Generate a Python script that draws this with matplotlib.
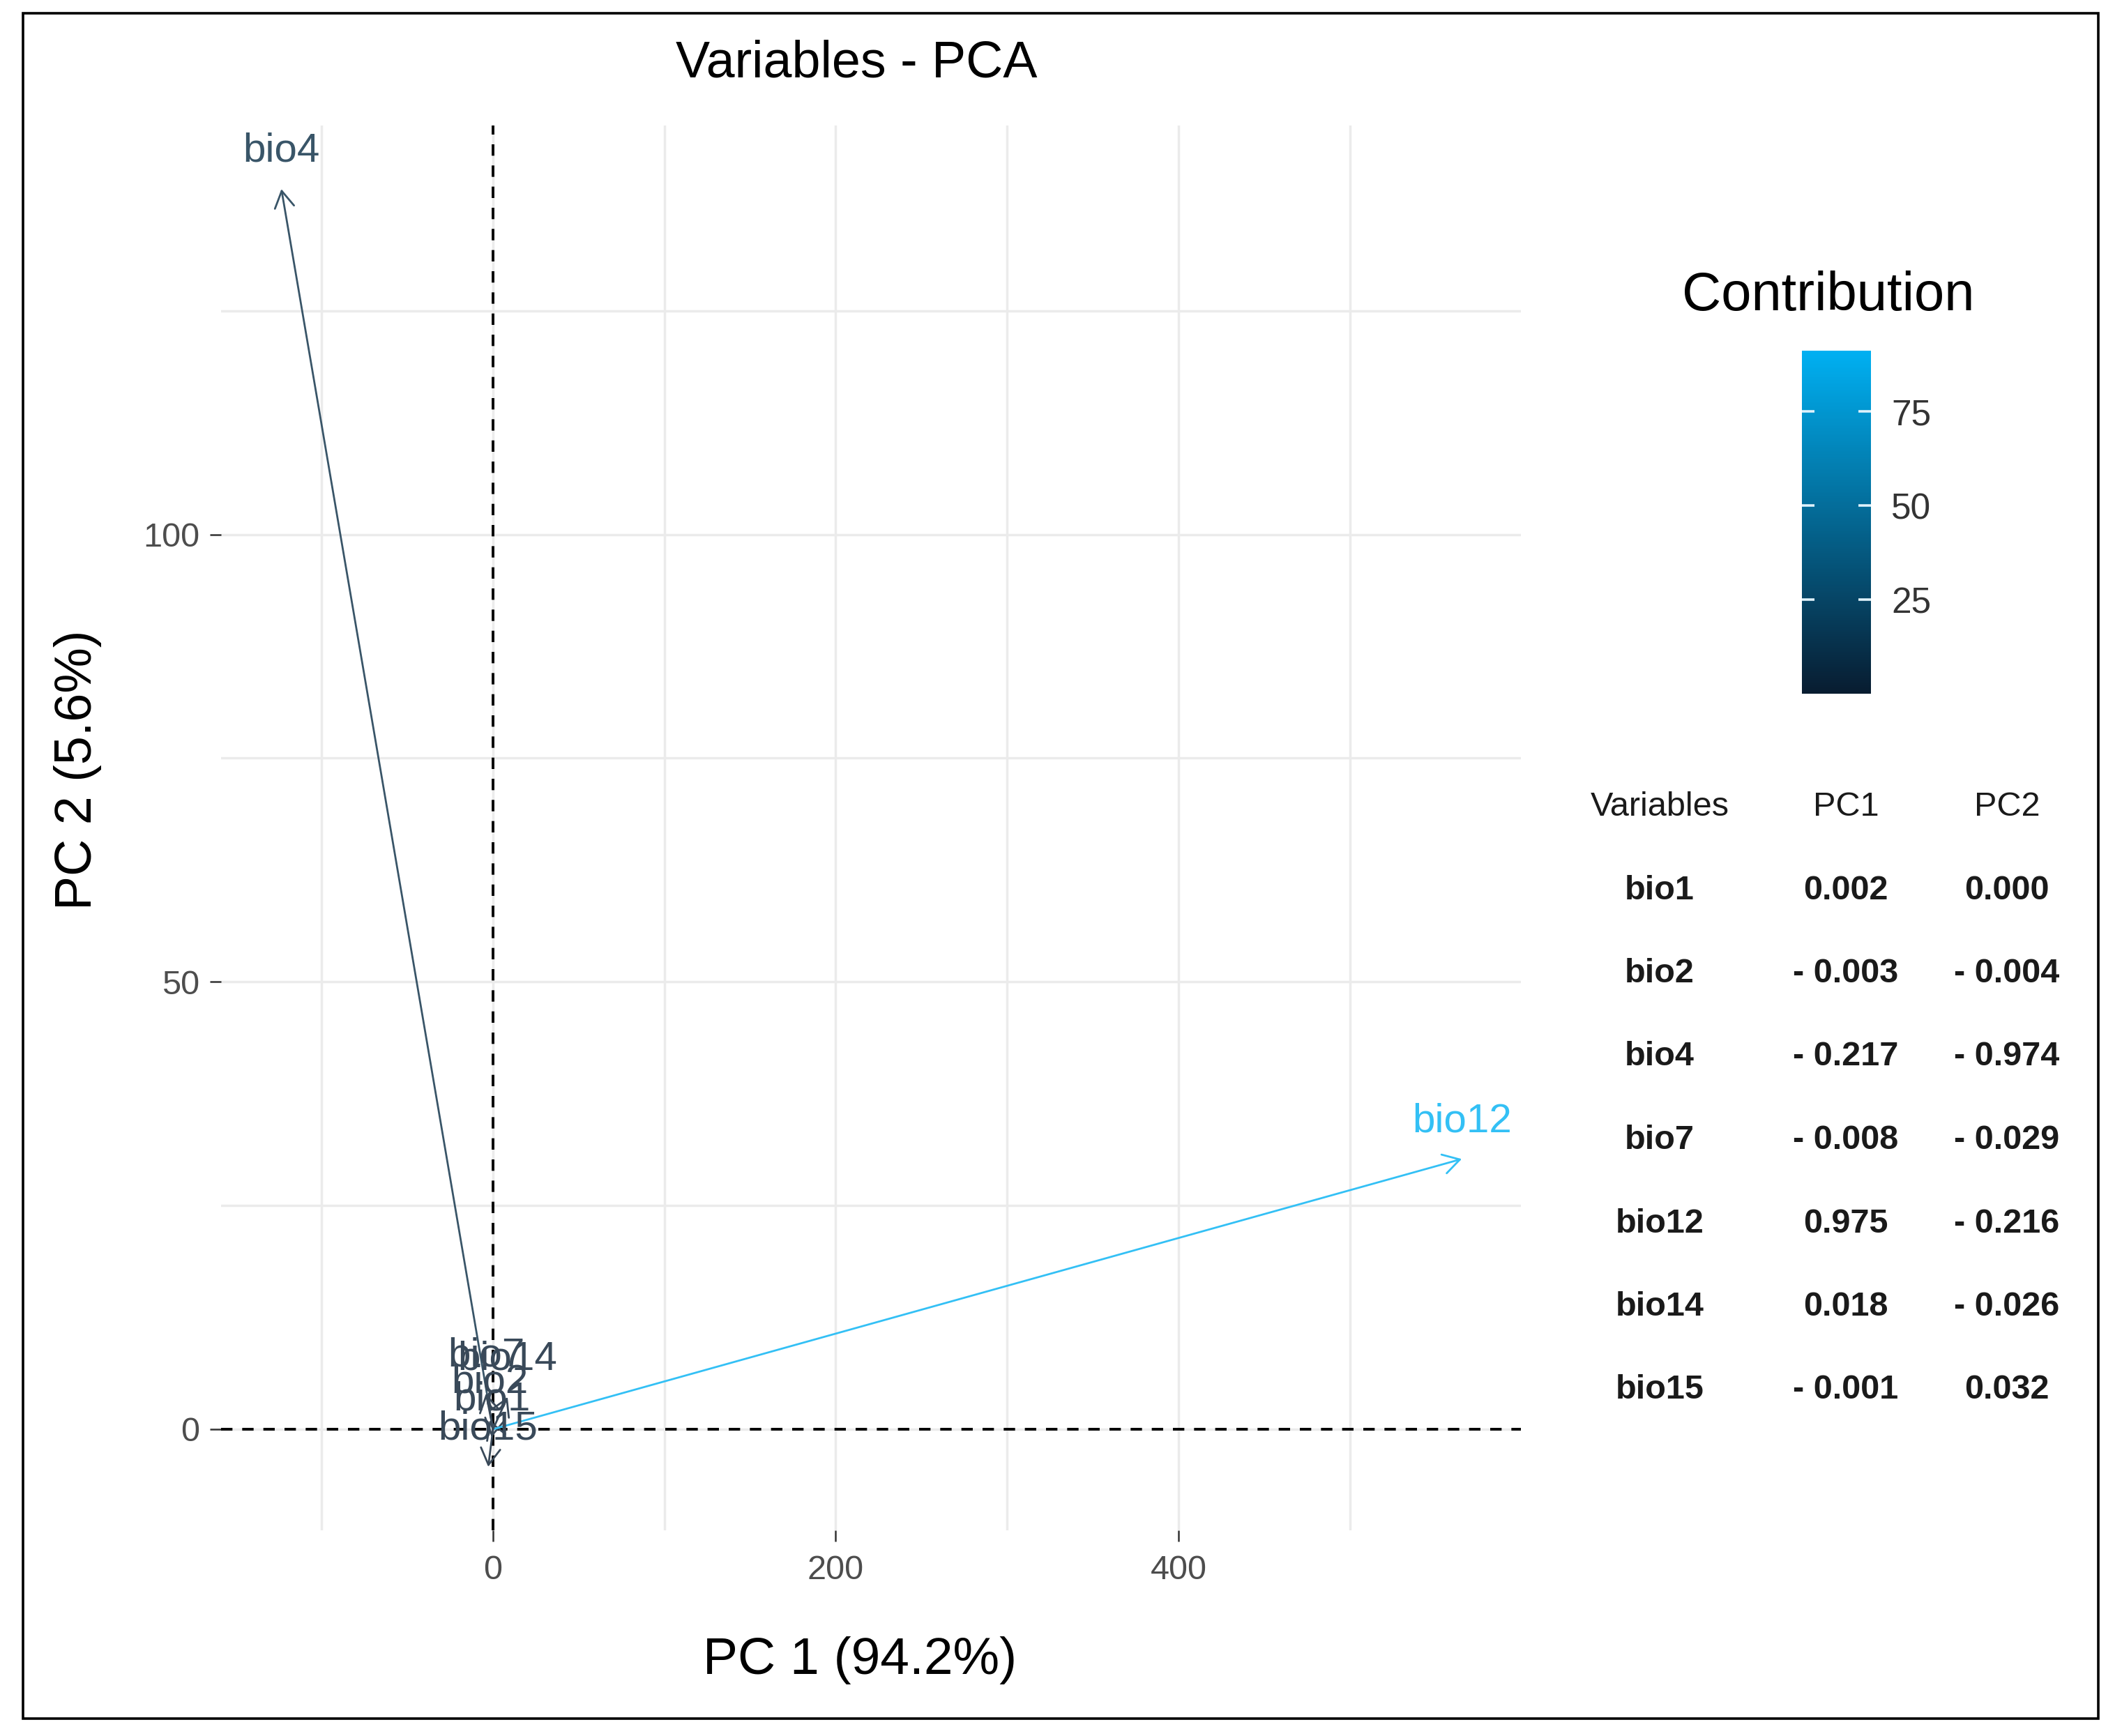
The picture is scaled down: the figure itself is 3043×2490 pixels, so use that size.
import matplotlib
matplotlib.use("Agg")
import matplotlib.pyplot as plt
import numpy as np
from matplotlib.colors import LinearSegmentedColormap, Normalize
from matplotlib.cm import ScalarMappable
from matplotlib.ticker import MultipleLocator
from matplotlib.patches import Rectangle

plt.rcParams['font.family'] = ['Liberation Sans', 'DejaVu Sans']

# coordonnees des variables sur PC1 / PC2
variables = ['bio1', 'bio2', 'bio4', 'bio7', 'bio12', 'bio14', 'bio15']
pc1_coord = [-0.8, -2.0, -123.5, -4.1, 565.3, 8.5, -2.8]
pc2_coord = [-0.9, 1.0, 138.6, 4.0, 30.2, 3.6, -4.2]
contrib = [0.01, 0.01, 8.7, 0.05, 91.2, 0.05, 0.02]

# tableau de droite
table_header = ['Variables', 'PC1', 'PC2']
table_pc1 = ['0.002', '- 0.003', '- 0.217', '- 0.008', '0.975', '0.018', '- 0.001']
table_pc2 = ['0.000', '- 0.004', '- 0.974', '- 0.029', '- 0.216', '- 0.026', '0.032']

W, H = 3043, 2490


def fx(x):
    return x / W


def fy(y):
    return 1 - y / H


fig = plt.figure(figsize=(W / 100, H / 100), dpi=100)
ax = fig.add_axes([fx(317), fy(2195), (2181 - 317) / W, (2195 - 180) / H])

cmap = LinearSegmentedColormap.from_list('contrib', ['#081c30', '#00b0f2'])
norm = Normalize(vmin=0, vmax=max(contrib))

ax.set_xlim(-158.7, 599.8)
ax.set_ylim(-11.3, 145.7)
ax.xaxis.set_major_locator(MultipleLocator(200))
ax.xaxis.set_minor_locator(MultipleLocator(100))
ax.yaxis.set_major_locator(MultipleLocator(50))
ax.yaxis.set_minor_locator(MultipleLocator(25))
ax.set_axisbelow(True)
ax.grid(which='both', color='#ebebeb', lw=2.5)
for s in ax.spines.values():
    s.set_visible(False)
ax.tick_params(which='major', length=11.5, width=1.8, color='#333333',
               labelsize=35, labelcolor='#4d4d4d')
ax.tick_params(axis='x', pad=14)
ax.tick_params(axis='y', pad=10.5)
ax.tick_params(which='minor', length=0)

ax.axhline(0, color='black', lw=2.8, dashes=(4.2, 3.6), zorder=2)
ax.axvline(0, color='black', lw=2.8, dashes=(4.2, 3.6), zorder=2)

for name, x, y, c in zip(variables, pc1_coord, pc2_coord, contrib):
    # couleur un peu eclaircie comme sur l'image d'origine
    col = 0.8 * np.array(cmap(norm(c))[:3]) + 0.2
    ax.annotate('', xy=(x, y), xytext=(0, 0),
                arrowprops=dict(arrowstyle='->,head_length=1.7,head_width=1.0',
                                mutation_scale=10, color=col, lw=2.0,
                                shrinkA=0, shrinkB=0), zorder=3)
    ax.annotate(name, xy=(x, y), xytext=(0, 39), textcoords='offset points',
                ha='center', va='center', fontsize=42, color=col, zorder=4)

ax.set_xlabel('PC 1 (94.2%)', fontsize=54)
ax.set_ylabel('PC 2 (5.6%)', fontsize=53)
ax.xaxis.set_label_coords((1233 - 317) / 1864, (2195 - 2381) / 2015)
ax.yaxis.set_label_coords((111 - 317) / 1864, (2195 - 1104) / 2015)
ax.xaxis.label.set_va('center')
ax.yaxis.label.set_va('center')

fig.text(fx(1228), fy(91), 'Variables - PCA', fontsize=53, ha='center', va='center')

# legende de couleur
fig.text(fx(2622), fy(424), 'Contribution', fontsize=56, ha='center', va='center')
cax = fig.add_axes([fx(2584), fy(995), 99 / W, (995 - 503) / H])
cb = fig.colorbar(ScalarMappable(norm=norm, cmap=cmap), cax=cax, ticks=[25, 50, 75])
cb.outline.set_visible(False)
cax.tick_params(direction='in', length=13, width=2.6, color='#dff2fb',
                left=True, right=True, labelsize=37, labelcolor='#333333', pad=21)

# tableau des coordonnees
col_x = [2380, 2647, 2878]
for j, t in enumerate(table_header):
    fig.text(fx(col_x[j]), fy(1158), t, fontsize=35, ha='center', va='center',
             color='#1a1a1a')
for i, name in enumerate(variables):
    yy = 1277 + i * 119.5
    for j, t in enumerate([name, table_pc1[i], table_pc2[i]]):
        fig.text(fx(col_x[j]), fy(yy), t, fontsize=35, ha='center', va='center',
                 color='#1a1a1a', fontweight='bold')

# cadre exterieur
fig.add_artist(Rectangle((fx(33), fy(2465)), (3009 - 33) / W, (2465 - 19) / H,
                         transform=fig.transFigure, fill=False, ec='black', lw=2.6))

fig.savefig('out.png', dpi=100)
